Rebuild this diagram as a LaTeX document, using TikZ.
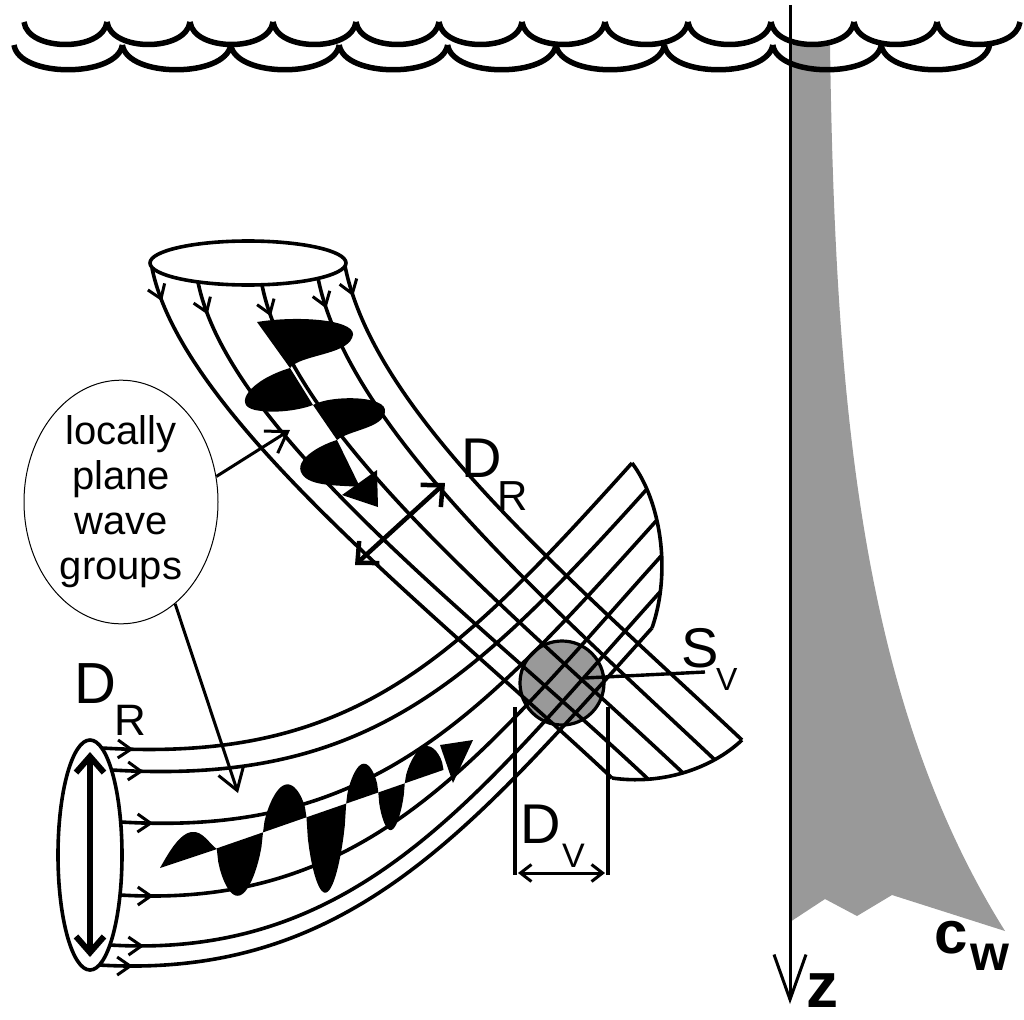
\documentclass[tikz,border=0pt]{standalone}
\usepackage{fontspec}
\setmainfont{Liberation Sans}
\usetikzlibrary{arrows.meta,decorations.markings,shapes.geometric}
\begin{document}
\begin{tikzpicture}[x=1pt,y=-1pt,
  wav/.style={line width=5.5pt},
  tube/.style={line width=3.6pt},
  flow/.style={tube,decoration={markings,mark=at position #1 with {\arrow{Straight Barb[length=13pt,width=18pt,line width=3pt]}}},postaction=decorate},
  flow/.default=0.05,
  dbl/.style={line width=4.5pt,{Straight Barb[length=16pt,width=30pt,line width=4.5pt]}-{Straight Barb[length=16pt,width=30pt,line width=4.5pt]}},
  ptr/.style={line width=3pt,-{Straight Barb[length=20pt,width=26pt,line width=3pt]}},
  gr/.style={fill=black!40},
  lbl/.style={anchor=base west,inner sep=0pt}]
\useasboundingbox (0,0) rectangle (1024,1019);
% gray sound-speed profile
\fill[gr] (790,45) -- (830,45) .. controls (835,400) and (860,700) .. (1005,931)
  -- (892,895) -- (857,916) -- (825,899) -- (790,922) -- cycle;
\coordinate (ztop) at (790,5);
\coordinate (zbot) at (790,1004);
\draw[line width=3pt,-{Straight Barb[length=45pt,width=32pt,line width=3pt]}] (ztop) -- (zbot);
% sea surface waves
\foreach \k in {0,...,11}{
  \pgfmathsetmacro\a{24+83*\k}
  \draw[wav] (\a,22) .. controls (\a+4,52) and (\a+79,52) .. (\a+83,22);}
\foreach \k in {0,...,8}{
  \pgfmathsetmacro\a{14+108.4*\k}
  \draw[wav] (\a,45) .. controls (\a+5,78) and (\a+103,78) .. (\a+108.4,45);}
% S_v sphere
\node[circle,draw,line width=3.2pt,gr,minimum size=84pt,inner sep=0pt] (sv) at (562,683) {};
% tube 1 (upper)
\draw[flow] (152,268) .. controls (182,418) and (442,618) .. (612,778);
\draw[flow] (198,282) .. controls (228,432) and (478,619) .. (648,779);
\draw[flow] (262,285) .. controls (292,435) and (513,613) .. (683,773);
\draw[flow] (318,278) .. controls (348,428) and (545,600) .. (715,760);
\draw[flow] (345,266) .. controls (375,416) and (572,580) .. (742,740);
\draw[tube] (612,778) .. controls (660,785) and (710,770) .. (742,740);
\node[ellipse,draw,line width=3.6pt,fill=white,minimum width=196pt,minimum height=44pt,inner sep=0pt] (top) at (248,263) {};
% tube 2 (lower)
\draw[flow] (102,748) .. controls (352,763) and (452,663) .. (632,463);
\draw[flow] (112,770) .. controls (362,785) and (467,689) .. (647,489);
\draw[flow] (121,822) .. controls (371,837) and (477,720) .. (657,520);
\draw[flow] (120,895) .. controls (370,910) and (482,755) .. (662,555);
\draw[flow] (110,945) .. controls (360,960) and (480,792) .. (660,592);
\draw[flow] (99,965) .. controls (349,980) and (472,828) .. (652,628);
\draw[tube] (632,463) .. controls (660,500) and (672,570) .. (652,628);
\node[ellipse,draw,line width=3.6pt,fill=white,minimum width=64pt,minimum height=230pt,inner sep=0pt] (left) at (90,855) {};
\coordinate (lt) at (90,752);
\coordinate (lb) at (90,957);
\draw[line width=6pt,{Straight Barb[length=16pt,width=28pt,line width=6pt]}-{Straight Barb[length=16pt,width=28pt,line width=6pt]}] (lt) -- (lb);
% wave packet tube 1
\fill (257,322) .. controls (300,315) and (362,320) .. (352,338) .. controls (345,355) and (300,355) .. (290,368) -- cycle;
\fill (290,368) .. controls (250,380) and (232,405) .. (255,410) .. controls (275,414) and (300,410) .. (313,405) -- cycle;
\fill (313,405) .. controls (330,395) and (388,395) .. (385,412) .. controls (383,428) and (350,430) .. (337,440) -- cycle;
\fill (337,440) .. controls (320,445) and (293,460) .. (302,474) .. controls (310,487) and (340,485) .. (360,487) -- cycle;
\fill (342,495) -- (377,470) -- (378,507) -- cycle;
% wave packet tube 2 (vertical oscillation along a tilted axis)
\fill (160,868) .. controls (170,850) and (180,834) .. (191,832) .. controls (203,830) and (210,845) .. (217,849) -- cycle;
\foreach \a/\b/\A in {60/109/55,109/155/-40,155/197/82,197/231/-34,231/259/42,259/300/-30}{
  \fill plot[domain=\a:\b,samples=30] ({160+0.945*\x},{868-0.327*\x+\A*pow(abs(sin(180*(\x-\a)/(\b-\a))),0.6)}) -- cycle;}
\fill (440,745) -- (473,740) -- (453,783) -- cycle;
% D_R arrows
\coordinate (dr1) at (355,565);
\coordinate (dr2) at (445,483);
\draw[dbl] (dr1) -- (dr2);
% balloon
\node[ellipse,draw,line width=1pt,fill=white,minimum width=194pt,minimum height=220pt,inner sep=0pt,
  align=center,font=\fontsize{40}{45}\selectfont] (loc) at (121,502) {locally\\plane\\wave\\groups};
\coordinate (p1) at (290,430);
\coordinate (p2) at (238,793);
\draw[ptr] (loc.15) -- (p1);
\draw[ptr] (loc.-62) -- (p2);
% S_v line
\coordinate (svend) at (705,672);
\draw[line width=3.4pt] (sv.center) ++(23,-5) -- (svend);
% D_V
\coordinate (dv1t) at (515,707);
\coordinate (dv1b) at (515,875);
\coordinate (dv2t) at (608,707);
\coordinate (dv2b) at (608,875);
\draw[line width=3.4pt] (dv1t) -- (dv1b);
\draw[line width=3.4pt] (dv2t) -- (dv2b);
\coordinate (dva) at (518,873);
\coordinate (dvb) at (605,873);
\draw[line width=3pt,{Straight Barb[length=11pt,width=17pt,line width=3pt]}-{Straight Barb[length=11pt,width=17pt,line width=3pt]}] (dva) -- (dvb);
% labels
\node[lbl,font=\fontsize{56}{56}\selectfont] (drD) at (461,477) {D};
\node[lbl,font=\fontsize{42}{42}\selectfont] (drR) at (497,510) {R};
\node[lbl,font=\fontsize{58}{58}\selectfont] (dlD) at (74,703) {D};
\node[lbl,font=\fontsize{44}{44}\selectfont] (dlR) at (114,735) {R};
\node[lbl,font=\fontsize{56}{56}\selectfont] (sS) at (681,667) {S};
\node[lbl,font=\fontsize{32}{32}\selectfont] (sV) at (716,690) {V};
\node[lbl,font=\fontsize{56}{56}\selectfont] (dD) at (520,843) {D};
\node[lbl,font=\fontsize{34}{34}\selectfont] (dV) at (562,867) {V};
\node[lbl,font=\fontsize{60}{60}\selectfont\bfseries] (cc) at (934,953) {c};
\node[lbl,font=\fontsize{50}{50}\selectfont\bfseries] (cw) at (970,970) {w};
\node[lbl,font=\fontsize{64}{64}\selectfont\bfseries] (zz) at (806,1007) {z};
\end{tikzpicture}
\end{document}
